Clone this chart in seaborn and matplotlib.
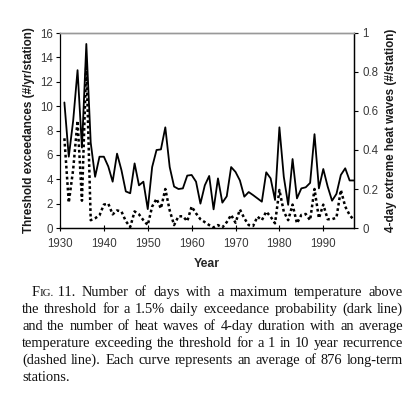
import matplotlib
matplotlib.use("Agg")
import matplotlib.pyplot as plt
import seaborn as sns
import pandas as pd

years = list(range(1931, 1998))
exceedances = [10.3, 5.85, 8.8, 12.95, 6.6, 15.1, 7.0, 4.2, 5.85, 5.85,
               5.05, 3.8, 6.1, 4.75, 3.0, 2.85, 5.3, 3.5, 3.8, 1.55,
               5.0, 6.4, 6.45, 8.26, 5.0, 3.4, 3.2, 3.25, 4.3, 4.35,
               3.8, 2.0, 3.5, 4.27, 1.53, 4.07, 2.08, 2.6, 5.0, 4.6,
               3.9, 2.57, 2.95, 2.7, 2.43, 2.16, 4.57, 4.07, 2.3, 8.26,
               4.2, 1.9, 5.66, 2.43, 3.25, 3.34, 3.7, 7.7, 3.25, 4.84,
               3.4, 2.24, 2.8, 4.35, 4.9, 3.9, 3.9]
heatwaves = [0.46, 0.13, 0.30, 0.55, 0.14, 0.85, 0.04, 0.05, 0.065, 0.12,
             0.125, 0.07, 0.09, 0.085, 0.035, 0.005, 0.085, 0.07, 0.04, 0.015,
             0.11, 0.15, 0.10, 0.20, 0.09, 0.015, 0.06, 0.06, 0.035, 0.11,
             0.075, 0.045, 0.03, 0.015, 0.003, 0.015, 0.003, 0.03, 0.067, 0.027,
             0.095, 0.05, 0.015, 0.01, 0.058, 0.04, 0.084, 0.058, 0.024, 0.195,
             0.084, 0.04, 0.12, 0.024, 0.067, 0.072, 0.04, 0.20, 0.05, 0.12,
             0.045, 0.045, 0.053, 0.195, 0.11, 0.067, 0.04]

left_ticks = [0, 2, 4, 6, 8, 10, 12, 14, 16]
right_ticks = [0, 0.2, 0.4, 0.6, 0.8, 1.0]
right_labels = ["0", "0.2", "0.4", "0.6", "0.8", "1"]
x_ticks = [1930, 1940, 1950, 1960, 1970, 1980, 1990]

caption_lines = [
    "Number of days with a maximum temperature above",
    "the threshold for a 1.5% daily exceedance probability (dark line)",
    "and the number of heat waves of 4-day duration with an average",
    "temperature exceeding the threshold for a 1 in 10 year recurrence",
    "(dashed line). Each curve represents an average of 876 long-term",
    "stations.",
]

df = pd.DataFrame({"year": years, "exc": exceedances, "hw": heatwaves})

sns.set_theme(style="white")
plt.rcParams["font.family"] = ["Liberation Sans", "DejaVu Sans"]

W, H = 411, 396
fig = plt.figure(figsize=(W / 100, H / 100), dpi=100)
ax = fig.add_axes([60 / W, 1 - 228 / H, 294 / W, 195 / H])
ax2 = ax.twinx()

sns.lineplot(data=df, x="year", y="exc", ax=ax, color="black", lw=1.3)
sns.lineplot(data=df, x="year", y="hw", ax=ax2, color="black", lw=1.8,
             linestyle=(0, (1.1, 1.1)))

ax.set_xlim(1930, 1997)
ax.set_ylim(0, 16)
ax2.set_ylim(0, 1)
ax.set_yticks(left_ticks)
ax2.set_yticks(right_ticks)
ax2.set_yticklabels(right_labels)
ax.set_xticks(x_ticks)

tick_color = "#3a3a3a"
ax.tick_params(axis="y", which="both", left=True, direction="out", length=3,
               width=0.8, labelsize=8.3, colors="black", labelcolor=tick_color, pad=2)
ax.tick_params(axis="x", bottom=True, direction="inout", length=4, width=0.8,
               labelsize=8.3, colors="black", labelcolor=tick_color, pad=5)
ax2.tick_params(axis="y", right=True, direction="out", length=3, width=0.8,
                labelsize=8.3, colors="black", labelcolor=tick_color, pad=3)

ax.set_xlabel("Year", fontsize=8.8, fontweight="bold", labelpad=6)
ax.set_ylabel("Threshold exceedances (#/yr/station)", fontsize=8.4,
              fontweight="bold", labelpad=4, color="#1a1a1a")
ax2.set_ylabel("4-day extreme heat waves (#/station)", fontsize=8.4,
               fontweight="bold", labelpad=5, color="#1a1a1a")

for a in (ax, ax2):
    for s in ("left", "bottom", "right"):
        a.spines[s].set_color("black")
        a.spines[s].set_linewidth(0.9)
    a.spines["top"].set_color("#999999")
    a.spines["top"].set_linewidth(1.0)
    a.grid(False)
ax2.spines["left"].set_visible(False)

# ---- caption, fully justified ----
fig.canvas.draw()
renderer = fig.canvas.get_renderer()
serif = ["Liberation Serif", "DejaVu Serif"]


def text_width(s, size):
    t = fig.text(0, 0, s, fontsize=size, family=serif)
    w = t.get_window_extent(renderer).width
    t.remove()
    return w


left_px, right_px = 22, 403
indent_px = 32
baselines = [296, 313, 330, 347, 364, 381]


def prefix_parts(size):
    return [("F", size), ("IG.", size * 0.76), (" 11.", size)]


def natural(i, size):
    words = caption_lines[i].split(" ")
    sp = text_width("a b", size) - text_width("ab", size)
    tot = sum(text_width(w, size) for w in words) + (len(words) - 1) * sp
    if i == 0:
        tot += sum(text_width(s, z) for s, z in prefix_parts(size)) + sp
    return tot


base = 10.0
ratios = []
for i in range(len(caption_lines) - 1):
    start = indent_px if i == 0 else left_px
    ratios.append((right_px - start) / natural(i, base))
fs = base * min(ratios) * 0.99
space_w = text_width("a b", fs) - text_width("ab", fs)


def put(x_px, y_px, s, size):
    fig.text(x_px / W, 1 - y_px / H, s, fontsize=size, family=serif,
             color="#111111", va="baseline", ha="left")


for i, line in enumerate(caption_lines):
    words = line.split(" ")
    widths = [text_width(w, fs) for w in words]
    y = baselines[i]
    if i == 0:
        prefix = prefix_parts(fs)
        pw = [text_width(s, z) for s, z in prefix]
        start = indent_px
        words = ["__prefix__"] + words
        widths = [sum(pw)] + widths
    else:
        start = left_px
    last = i == len(caption_lines) - 1
    if last:
        gap = space_w
    else:
        gap = (right_px - start - sum(widths)) / (len(words) - 1)
    x = start
    for w, wd in zip(words, widths):
        if w == "__prefix__":
            xx = x
            for (s, z), pwi in zip(prefix, pw):
                put(xx, y, s, z)
                xx += pwi
        else:
            put(x, y, w, fs)
        x += wd + gap

fig.savefig("out.png", dpi=100)
